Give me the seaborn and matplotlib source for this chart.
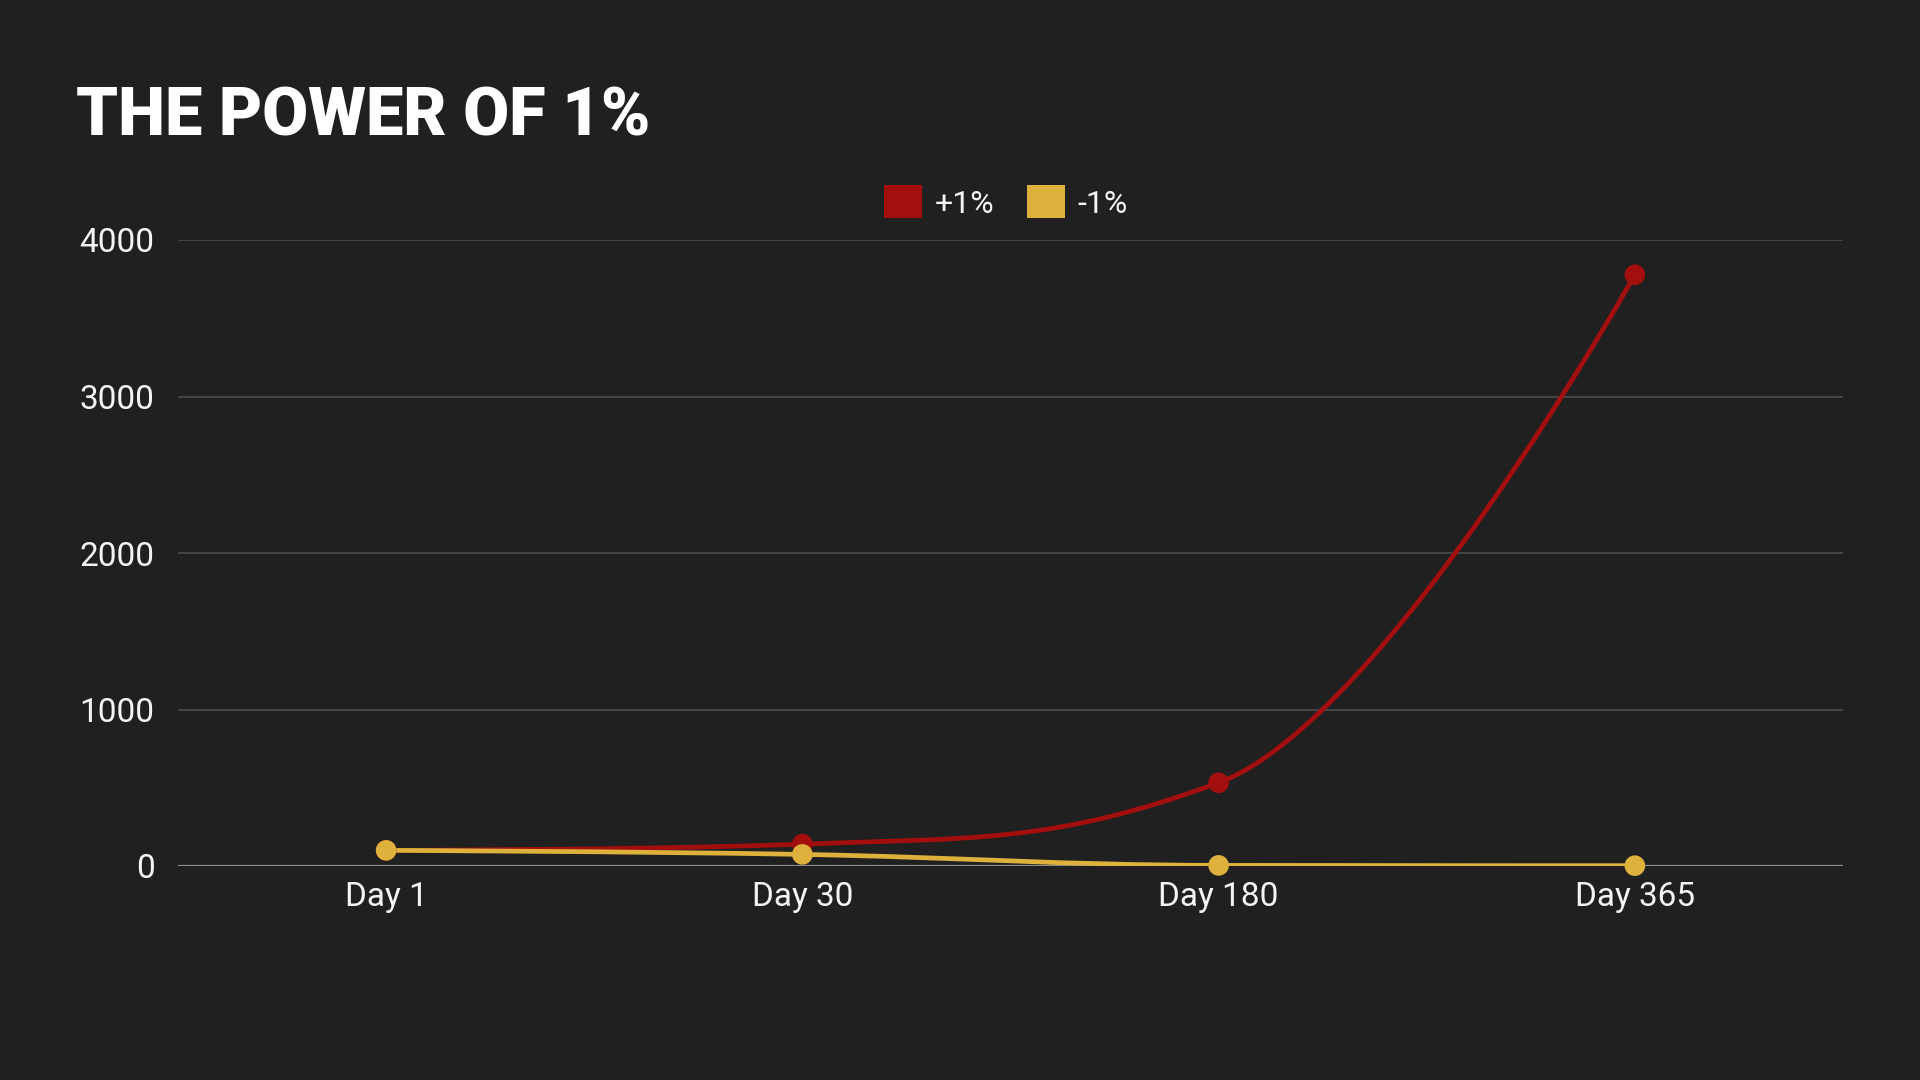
import numpy as np
import pandas as pd
import matplotlib
matplotlib.use("Agg")
import matplotlib.pyplot as plt
import seaborn as sns
from matplotlib.path import Path
from matplotlib.patches import PathPatch, Patch

# data
days = ["Day 1", "Day 30", "Day 180", "Day 365"]
plus_one = [100, 140, 532, 3778]
minus_one = [100, 74, 4, 2]
series_names = ["+1%", "-1%"]
colors = {"+1%": "#A30E0E", "-1%": "#DDB13C"}

BG = "#202020"

df = pd.DataFrame({
    "day": days * 2,
    "x": list(range(len(days))) * 2,
    "value": plus_one + minus_one,
    "series": [series_names[0]] * len(days) + [series_names[1]] * len(days),
})

sns.set_theme(style="dark")
plt.rcParams["font.family"] = ["Roboto", "DejaVu Sans"]

fig = plt.figure(figsize=(19.2, 10.8), dpi=100, facecolor=BG)
ax = fig.add_axes([178 / 1920, 1 - 866 / 1080, (1843 - 178) / 1920, (866 - 240) / 1080])
ax.set_facecolor(BG)
ax.set_xlim(-0.5, len(days) - 0.5)
ax.set_ylim(0, 4000)

# grid
ax.set_yticks([0, 1000, 2000, 3000, 4000])
ax.set_yticklabels(["0", "1000", "2000", "3000", "4000"])
ax.set_xticks(range(len(days)))
ax.set_xticklabels(days)
ax.grid(False)
for v in [1000, 2000, 3000, 4000]:
    ax.axhline(v, color="#4a4a4a", lw=1.3, zorder=0)
ax.axhline(0, color="#8a8a8a", lw=1.6, zorder=1)
for s in ax.spines.values():
    s.set_visible(False)
ax.tick_params(axis="both", length=0, colors="#f4f4f4", labelsize=24)
ax.tick_params(axis="y", pad=17)
ax.tick_params(axis="x", pad=11)


def smooth_path(xs, ys, smoothing=1.5):
    # spline with control points on a line through each point, in pixel space
    pts = ax.transData.transform(np.column_stack([xs, ys]))
    n = len(pts)
    left = [None] * n
    right = [None] * n
    for i in range(1, n - 1):
        lx, ly = pts[i - 1]
        x, y = pts[i]
        nx, ny = pts[i + 1]
        d = smoothing + 1
        lcx, lcy = (smoothing * x + lx) / d, (smoothing * y + ly) / d
        rcx, rcy = (smoothing * x + nx) / d, (smoothing * y + ny) / d
        corr = 0
        if rcx != lcx:
            corr = (rcy - lcy) * (rcx - x) / (rcx - lcx) + y - rcy
        lcy += corr
        rcy += corr
        if lcy > ly and lcy > y:
            lcy = max(ly, y)
            rcy = 2 * y - lcy
        elif lcy < ly and lcy < y:
            lcy = min(ly, y)
            rcy = 2 * y - lcy
        if rcy > ny and rcy > y:
            rcy = max(ny, y)
            lcy = 2 * y - rcy
        elif rcy < ny and rcy < y:
            rcy = min(ny, y)
            lcy = 2 * y - rcy
        left[i] = (lcx, lcy)
        right[i] = (rcx, rcy)
    verts = [pts[0]]
    codes = [Path.MOVETO]
    for i in range(1, n):
        c1 = right[i - 1] if right[i - 1] is not None else pts[i - 1]
        c2 = left[i] if left[i] is not None else pts[i]
        verts += [c1, c2, pts[i]]
        codes += [Path.CURVE4] * 3
    verts = ax.transData.inverted().transform(np.array(verts, dtype=float))
    return Path(verts, codes)


for name, vals in [(series_names[0], plus_one), (series_names[1], minus_one)]:
    path = smooth_path(np.arange(len(days)), np.array(vals, dtype=float))
    ax.add_patch(PathPatch(path, facecolor="none", edgecolor=colors[name],
                           lw=3.4, zorder=3 if name == "+1%" else 4, capstyle="round"))

sns.scatterplot(data=df[df["series"] == "+1%"], x="x", y="value", color=colors["+1%"],
                s=220, edgecolor="none", ax=ax, zorder=5, legend=False, clip_on=False)
sns.scatterplot(data=df[df["series"] == "-1%"], x="x", y="value", color=colors["-1%"],
                s=220, edgecolor="none", ax=ax, zorder=6, legend=False, clip_on=False)
ax.set_xlabel("")
ax.set_ylabel("")
ax.set_xlim(-0.5, len(days) - 0.5)
ax.set_ylim(0, 4000)

handles = [Patch(facecolor=colors[n], edgecolor="none", label=n) for n in series_names]
leg = fig.legend(handles=handles, loc="center", bbox_to_anchor=(1006 / 1920, 1 - 202 / 1080),
                 ncol=2, frameon=False, handlelength=1.2, handleheight=1.2,
                 handletextpad=0.4, columnspacing=1.0,
                 prop={"size": 23})
for t in leg.get_texts():
    t.set_color("#f4f4f4")

fig.text(76 / 1920, 1 - 118 / 1080, "THE POWER OF 1%", color="white", fontsize=48,
         fontweight="black", ha="left", va="center")

fig.savefig("out.png", dpi=100, facecolor=BG)
